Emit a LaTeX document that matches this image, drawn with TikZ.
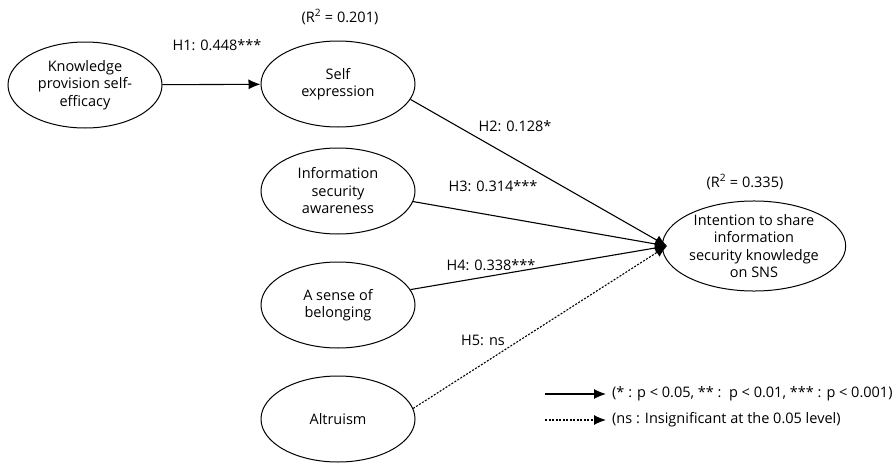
\documentclass[tikz,border=0pt]{standalone}
\usepackage{fontspec}
\setmainfont{Open Sans}
\usetikzlibrary{arrows.meta,shapes.geometric}
\begin{document}
\begin{tikzpicture}[x=1pt,y=-1pt,
  construct/.style={draw,line width=1pt,ellipse,minimum width=154pt,minimum height=86pt,inner sep=0pt,align=center,font=\fontsize{14.5}{17.5}\selectfont},
  lbl/.style={font=\fontsize{14.5}{17.5}\selectfont,inner sep=0pt},
  path/.style={line width=1.1pt,-{Latex[length=12pt,width=10pt]}},
  nspath/.style={line width=1.1pt,dash pattern=on 2pt off 1.5pt,-{Latex[length=12pt,width=10pt]}}]
\useasboundingbox (0,0) rectangle (892,463);
\node[construct] (kps) at (85,85) {Knowledge\\provision self-\\efficacy};
\node[construct] (se) at (338,84) {Self\\expression};
\node[construct] (isa) at (338,191) {Information\\security\\awareness};
\node[construct] (sb) at (338,305) {A sense of\\belonging};
\node[construct] (alt) at (338,419) {Altruism};
\node[construct,minimum width=174pt,minimum height=88pt] (int) at (754,246) {Intention to share\\information\\security knowledge\\on SNS};
\coordinate (tip) at (667,246);
\draw[path] (kps) -- (se);
\draw[path] (se.-12) -- (tip);
\draw[path] (isa.-8) -- (tip);
\draw[path] (sb.12) -- (tip);
\draw[nspath] (alt.8) -- (tip);
\node[lbl] (r1) at (340,17) {(R\textsuperscript{2} = 0.201)};
\node[lbl] (h1) at (217,45) {H1: 0.448***};
\node[lbl] (h2) at (515,126) {H2: 0.128*};
\node[lbl] (h3) at (493,186) {H3: 0.314***};
\node[lbl] (r2) at (745,182) {(R\textsuperscript{2} = 0.335)};
\node[lbl] (h4) at (491,265) {H4: 0.338***};
\node[lbl] (h5) at (483,340) {H5: ns};
\coordinate (l1a) at (545,394);
\coordinate (l1b) at (606,394);
\coordinate (l2a) at (545,420);
\coordinate (l2b) at (606,420);
\draw[path] (l1a) -- (l1b);
\draw[nspath] (l2a) -- (l2b);
\node[lbl,anchor=west] (leg1) at (612,394) {(* : p < 0.05, ** :\ \ p < 0.01, *** : p < 0.001)};
\node[lbl,anchor=west] (leg2) at (612,420) {(ns : Insignificant at the 0.05 level)};
\end{tikzpicture}
\end{document}
